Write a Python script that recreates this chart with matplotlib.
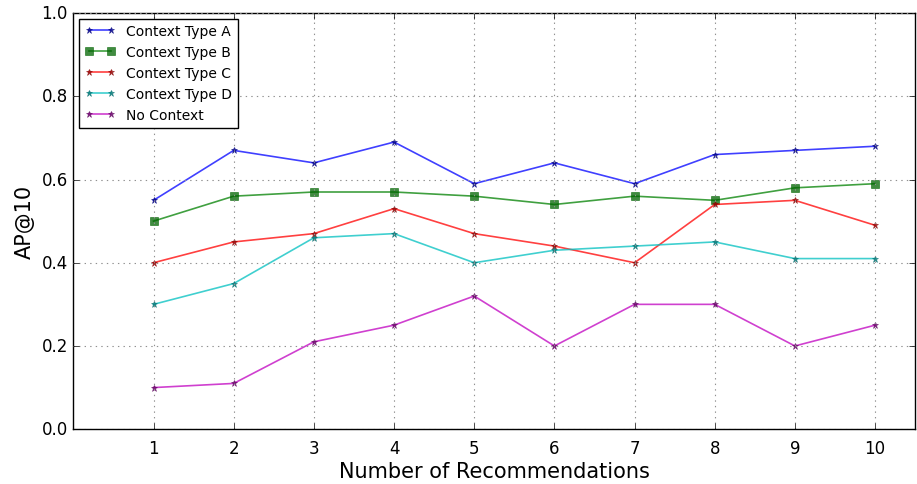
import matplotlib
matplotlib.use("Agg")
import matplotlib.pyplot as plt

plt.style.use("classic")

x = [1, 2, 3, 4, 5, 6, 7, 8, 9, 10]
type_a = [0.55, 0.67, 0.64, 0.69, 0.59, 0.64, 0.59, 0.66, 0.67, 0.68]
type_b = [0.50, 0.56, 0.57, 0.57, 0.56, 0.54, 0.56, 0.55, 0.58, 0.59]
type_c = [0.40, 0.45, 0.47, 0.53, 0.47, 0.44, 0.40, 0.54, 0.55, 0.49]
type_d = [0.30, 0.35, 0.46, 0.47, 0.40, 0.43, 0.44, 0.45, 0.41, 0.41]
no_ctx = [0.10, 0.11, 0.21, 0.25, 0.32, 0.20, 0.30, 0.30, 0.20, 0.25]

fig = plt.figure(figsize=(9.17, 4.85), dpi=100, facecolor="white")
ax = fig.add_axes([0.08, 0.113, 0.918, 0.858])

series = [
    ("Context Type A", type_a, "#0000ff", "#000080", "*", 5),
    ("Context Type B", type_b, "#008000", "#006400", "s", 6),
    ("Context Type C", type_c, "#ff0000", "#8b0000", "*", 5),
    ("Context Type D", type_d, "#00c0c0", "#007070", "*", 5),
    ("No Context", no_ctx, "#c000c0", "#600060", "*", 5),
]
for label, vals, lc, mc, mk, ms in series:
    ax.plot(x, vals, color=lc, alpha=0.75, lw=1.2, marker=mk,
            markersize=ms, markerfacecolor=mc, markeredgecolor=mc,
            label=label)

ax.set_xlim(0, 10.5)
ax.set_ylim(0, 1.0)
ax.set_xticks(x)
ax.set_yticks([0.0, 0.2, 0.4, 0.6, 0.8, 1.0])
ax.tick_params(labelsize=12)
ax.tick_params(axis="x", pad=7)
ax.grid(True, linestyle=":", color="#909090", lw=0.8)
ax.set_xlabel("Number of Recommendations", fontsize=15, labelpad=3)
ax.set_ylabel("AP@10", fontsize=15)
ax.legend(loc="upper left", fontsize=10, numpoints=2, handlelength=2.2,
          borderaxespad=0.4)

fig.savefig("out.png", dpi=100, facecolor="white")
